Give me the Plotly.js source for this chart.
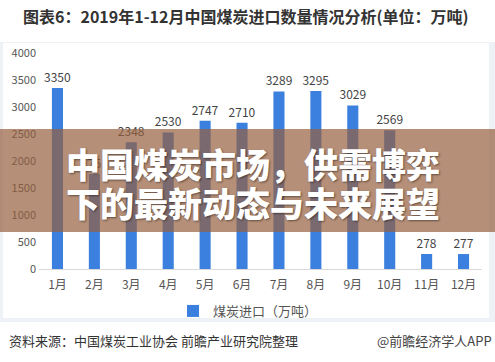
<!DOCTYPE html>
<html>
<head>
<meta charset="utf-8">
<script src="https://cdn.plot.ly/plotly-3.0.1.min.js"></script>
<style>html,body{margin:0;padding:0;background:#fff;}#chart{width:495px;height:362px;}</style>
</head>
<body>
<div id="chart"></div>
<script>
const months = ["1月","2月","3月","4月","5月","6月","7月","8月","9月","10月","11月","12月"];
const imports = [3350,1761,2348,2530,2747,2710,3289,3295,3029,2569,278,277];
const yTicks = [0,500,1000,1500,2000,2500,3000,3500,4000];
const seriesName = "煤炭进口（万吨）";
const titleText = "图表6：2019年1-12月中国煤炭进口数量情况分析(单位：万吨)";
const bannerLines = ["中国煤炭市场，供需博弈","下的最新动态与未来展望"];
const sourceText = "资料来源：中国煤炭工业协会 前瞻产业研究院整理";
const brandText = "@前瞻经济学人APP";

const W = 495, H = 362;
const L = 39, R = 13, T = 53, B = 93;
const pw = W - L - R, ph = H - T - B;
const px = X => (X - L) / pw;
const py = Y => (H - B - Y) / ph;
const FONT = '"Noto Sans CJK SC", "Noto Sans", sans-serif';

const data = [{
  type: 'bar',
  x: months,
  y: imports,
  name: seriesName,
  marker: {color: '#3b80de'},
  text: imports.map(String),
  textposition: 'outside',
  constraintext: 'none',
  cliponaxis: false,
  textfont: {family: FONT, size: 12, color: '#444'},
  hoverinfo: 'x+y'
}];

const layout = {
  width: W, height: H,
  margin: {l: L, r: R, t: T, b: B, pad: 0},
  paper_bgcolor: '#ffffff',
  plot_bgcolor: 'rgba(0,0,0,0)',
  bargap: 0.7,
  font: {family: FONT, color: '#555'},
  showlegend: true,
  legend: {
    orientation: 'h', x: px(248), xanchor: 'center', y: py(311), yanchor: 'middle',
    font: {family: FONT, size: 13, color: '#555'}, bgcolor: 'rgba(0,0,0,0)'
  },
  xaxis: {
    type: 'category', showline: true, linecolor: '#d9d9d9', linewidth: 1,
    ticks: '', showgrid: false, zeroline: false,
    tickfont: {family: FONT, size: 12, color: '#555'},
    ticklabelstandoff: 5
  },
  yaxis: {
    range: [0, 4000], tickvals: yTicks, showgrid: false, zeroline: false,
    showline: false, ticks: '',
    tickfont: {family: FONT, size: 11, color: '#555'},
    ticklabelstandoff: 2
  },
  shapes: [
    {type: 'rect', xref: 'paper', yref: 'paper', layer: 'below',
     x0: px(0), x1: px(495), y0: py(322), y1: py(42),
     fillcolor: '#eef1f6', line: {width: 0}},
    {type: 'rect', xref: 'paper', yref: 'paper', layer: 'below',
     x0: px(3), x1: px(489), y0: py(318), y1: py(43),
     fillcolor: '#ffffff', line: {width: 0}},
    {type: 'rect', xref: 'paper', yref: 'paper', layer: 'above',
     x0: px(0), x1: px(495), y0: py(232), y1: py(129),
     fillcolor: 'rgba(149,96,62,0.7)', line: {width: 0}}
  ],
  annotations: [
    {text: '<b>' + titleText + '</b>', xref: 'paper', yref: 'paper',
     x: px(21), y: py(16), xanchor: 'left', yanchor: 'middle', showarrow: false,
     font: {family: FONT, size: 16, color: '#333', weight: 900}},
    {text: bannerLines[0], xref: 'paper', yref: 'paper',
     x: px(64), y: py(163), xanchor: 'left', yanchor: 'middle', showarrow: false,
     font: {family: FONT, size: 34, weight: 900, color: '#ffffff', shadow: '1px 1px 2px rgba(0,0,0,0.45)'}},
    {text: bannerLines[1], xref: 'paper', yref: 'paper',
     x: px(64), y: py(202), xanchor: 'left', yanchor: 'middle', showarrow: false,
     font: {family: FONT, size: 34, weight: 900, color: '#ffffff', shadow: '1px 1px 2px rgba(0,0,0,0.45)'}},
    {text: sourceText, xref: 'paper', yref: 'paper',
     x: px(7), y: py(340), xanchor: 'left', yanchor: 'middle', showarrow: false,
     font: {family: FONT, size: 13, color: '#333'}},
    {text: brandText, xref: 'paper', yref: 'paper',
     x: px(494), y: py(340), xanchor: 'right', yanchor: 'middle', showarrow: false,
     font: {family: FONT, size: 13, color: '#444'}}
  ]
};

Plotly.newPlot('chart', data, layout, {displayModeBar: false, responsive: false});
</script>
</body>
</html>
